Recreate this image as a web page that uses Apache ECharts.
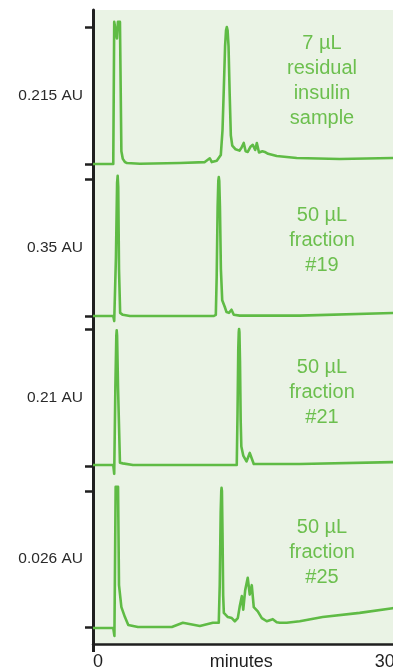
<!DOCTYPE html>
<html>
<head>
<meta charset="utf-8">
<script src="https://cdn.jsdelivr.net/npm/echarts@6/dist/echarts.min.js"></script>
<style>
html,body{margin:0;padding:0;background:#ffffff;}
#chart{width:393px;height:671px;}
</style>
</head>
<body>
<div id="chart"></div>
<script>
// ---- data (minutes, absorbance above each trace's baseline in AU) ----
const scaleValues = [0.215, 0.35, 0.21, 0.026];
const scaleLabels = ['0.215 AU', '0.35 AU', '0.21 AU', '0.026 AU'];
const sampleLabels = [
  '7 µL\nresidual\ninsulin\nsample',
  '50 µL\nfraction\n#19',
  '50 µL\nfraction\n#21',
  '50 µL\nfraction\n#25'
];
const xTickValues = [0, 15, 30];
const xTickLabels = ['0', 'minutes', '30'];

const traceResidual = [
  [-0.52, 0], [1.6, 0], [1.7, 0.223], [1.88, 0.223], [1.99, 0.197], [2.09, 0.223], [2.3, 0.223],
  [2.45, 0.02], [2.6, 0.008], [2.82, 0.003], [3.03, 0.0016], [4.39, 0.0005], [8.57, 0.0016],
  [11.18, 0.003], [11.7, 0.009], [11.91, 0.003], [12.43, 0.005], [12.85, 0.014], [13.03, 0.053],
  [13.17, 0.12], [13.3, 0.185], [13.4, 0.21], [13.48, 0.215], [13.56, 0.21], [13.66, 0.185],
  [13.78, 0.11], [13.9, 0.045], [14.05, 0.029], [14.2, 0.03],
  [14.4, 0.023], [14.6, 0.026], [14.8, 0.021], [15.0, 0.025], [15.25, 0.033], [15.45, 0.02],
  [15.67, 0.019], [15.95, 0.027], [16.2, 0.03], [16.45, 0.022], [16.62, 0.033], [16.85, 0.018],
  [17.2, 0.02], [17.45, 0.019], [17.8, 0.016], [18.7, 0.0126], [20.79, 0.0094], [25.29, 0.0078],
  [30.82, 0.0094], [31.6, 0.0094]
];
const traceFraction19 = [
  [-0.52, 0], [1.6, 0], [1.7, -0.013], [1.88, 0.15], [2.0, 0.34], [2.06, 0.358], [2.12, 0.33],
  [2.2, 0.12], [2.32, 0.008], [2.6, 0.003], [3.34, 0], [6.48, 0], [12.12, 0], [12.33, 0.003],
  [12.42, 0.1], [12.52, 0.28], [12.59, 0.345], [12.64, 0.355], [12.69, 0.345], [12.76, 0.28],
  [12.86, 0.12], [13.0, 0.04], [13.27, 0.023], [13.45, 0.01], [13.7, 0.008], [13.97, 0.016],
  [14.21, 0.003], [14.84, 0.001], [21.1, 0.001], [30.82, 0.0077], [31.6, 0.008]
];
const traceFraction21 = [
  [-0.52, 0.0015], [1.6, 0.0015], [1.7, -0.012], [1.82, 0.12], [1.92, 0.2], [1.96, 0.208],
  [2.0, 0.2], [2.1, 0.12], [2.3, 0.005], [2.6, 0.004], [3.66, 0.0015], [14.52, 0.0015],
  [14.6, 0.08], [14.68, 0.18], [14.73, 0.205], [14.76, 0.21], [14.8, 0.205], [14.86, 0.16],
  [14.93, 0.07], [15.0, 0.03], [15.2, 0.016], [15.54, 0.007], [15.88, 0.02], [16.3, 0.003],
  [21.1, 0.003], [30.82, 0.006], [31.6, 0.006]
];
const traceFraction25 = [
  [-0.52, -0.0002], [1.6, -0.0002], [1.72, -0.0017], [1.85, 0.0268], [2.1, 0.0268], [2.2, 0.008],
  [2.45, 0.0038], [2.82, 0.0019], [3.17, 0.0004], [4.18, 0], [7.73, 0], [8.88, 0.0008],
  [10.66, 0.0002], [12.02, 0.0008], [12.64, 0.0008], [12.74, 0.008], [12.84, 0.022],
  [12.9, 0.026], [12.93, 0.0266], [12.97, 0.026], [13.03, 0.018], [13.1, 0.006],
  [13.17, 0.0027], [13.59, 0.0019], [14.0, 0.0017], [14.32, 0.0011],
  [14.63, 0.0017], [14.84, 0.004], [15.05, 0.0059], [15.2, 0.0033], [15.4, 0.007],
  [15.67, 0.0094], [15.88, 0.0062], [16.09, 0.008], [16.3, 0.0038], [16.72, 0.003],
  [17.14, 0.0017], [17.66, 0.0011], [18.29, 0.0015], [18.7, 0.0009], [19.02, 0.0008],
  [19.75, 0.0008], [21.11, 0.0011], [23.51, 0.0019], [27.38, 0.0027], [30.82, 0.0036],
  [31.6, 0.0038]
];
const traces = [traceResidual, traceFraction19, traceFraction21, traceFraction25];

// ---- layout / style ----
const X_MIN = -0.52, X_MAX = 31.6;
const PLOT_LEFT = 93, PLOT_WIDTH = 307;
const panelTops = [27, 179, 329, 491];
const panelHeights = [137, 137, 137, 136];
const labelTops = [31, 203, 355, 515];
const LINE = '#5fbb45';
const TEXT_GREEN = '#6cbf4e';
const BG = '#eaf3e5';
const INK = '#1f1f1f';

const chart = echarts.init(document.getElementById('chart'), null, {renderer: 'canvas'});

const grids = [{
  left: PLOT_LEFT, width: PLOT_WIDTH, top: 10, height: 634,
  show: true, backgroundColor: BG, borderWidth: 0, outerBoundsMode: 'none'
}];
const xAxes = [{
  gridIndex: 0, type: 'value', min: X_MIN, max: X_MAX,
  axisLine: {show: true, onZero: false, lineStyle: {color: INK, width: 2.5}},
  axisTick: {show: true, customValues: [X_MIN], length: 8, lineStyle: {color: INK, width: 3}},
  axisLabel: {
    show: true, customValues: xTickValues, margin: 9,
    formatter: v => xTickLabels[xTickValues.indexOf(v)] ?? '',
    fontFamily: 'Liberation Sans, Arial, sans-serif', fontSize: 18, color: INK
  },
  splitLine: {show: false}
}];
const yAxes = [{
  gridIndex: 0, type: 'value', min: 0, max: 1,
  axisLine: {show: true, onZero: false, lineStyle: {color: INK, width: 3}},
  axisTick: {show: false}, axisLabel: {show: false}, splitLine: {show: false}
}];
const series = [];

for (let i = 0; i < 4; i++) {
  grids.push({
    left: PLOT_LEFT, width: PLOT_WIDTH, top: panelTops[i], height: panelHeights[i],
    show: false, outerBoundsMode: 'none'
  });
  xAxes.push({
    gridIndex: i + 1, type: 'value', min: X_MIN, max: X_MAX, show: false
  });
  yAxes.push({
    gridIndex: i + 1, type: 'value', min: 0, max: scaleValues[i], interval: scaleValues[i],
    axisLine: {show: false, onZero: false},
    axisTick: {show: true, inside: false, length: 8, lineStyle: {color: INK, width: 2.5}},
    axisLabel: {show: false},
    splitLine: {show: false},
    name: scaleLabels[i], nameLocation: 'middle', nameRotate: 0, nameGap: 10,
    nameTextStyle: {fontFamily: 'Liberation Sans, Arial, sans-serif', fontSize: 15.5, color: '#2a2a2a', align: 'right', verticalAlign: 'middle'}
  });
  series.push({
    type: 'line', xAxisIndex: i + 1, yAxisIndex: i + 1,
    data: traces[i], showSymbol: false, symbol: 'none', smooth: false, clip: false,
    lineStyle: {color: LINE, width: 2.6, join: 'round', cap: 'butt'},
    animation: false, z: 3
  });
}

const graphics = sampleLabels.map((t, i) => ({
  type: 'text', x: 322, y: labelTops[i], z: 10,
  style: {
    text: t, textAlign: 'center', textVerticalAlign: 'top',
    fontFamily: 'Liberation Sans, Arial, sans-serif', fontSize: 20, lineHeight: 25,
    fill: TEXT_GREEN
  }
}));

chart.setOption({
  animation: false,
  grid: grids,
  xAxis: xAxes,
  yAxis: yAxes,
  series: series,
  graphic: graphics
});
</script>
</body>
</html>
